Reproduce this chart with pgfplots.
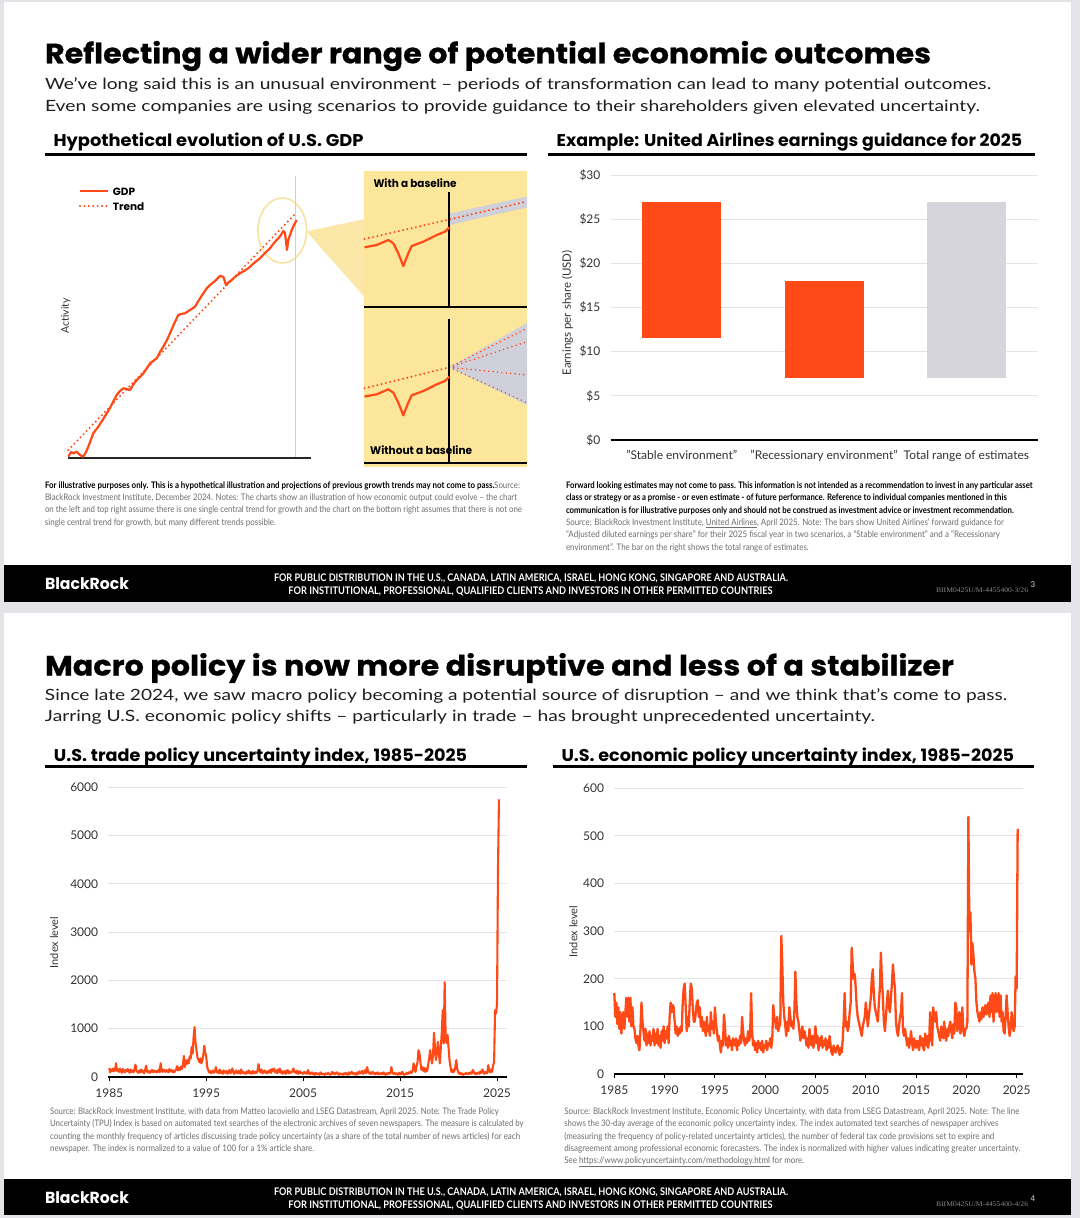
\documentclass[border=0pt]{standalone}
\usepackage{fontspec}
\setmainfont{Lato}
\newfontfamily\pop{Poppins}
\newfontfamily\popt{Poppins}[BoldFeatures={FakeBold=0.7}]
\newfontfamily\serifc{Liberation Serif}
\usepackage{graphicx}
\usepackage{pgfplots}
\pgfplotsset{compat=1.18}
\definecolor{bro}{HTML}{FF4A17}
\definecolor{pagebg}{HTML}{E4E4E8}
\definecolor{gridc}{HTML}{E3E3E8}
\definecolor{barg}{HTML}{D5D5DB}
\definecolor{ypan}{HTML}{FCE69C}
\definecolor{yfun}{HTML}{FBE8A8}
\definecolor{yell}{HTML}{F6E3A3}
\definecolor{bandg}{HTML}{D0D0DA}
\definecolor{notec}{HTML}{6E6E6E}
\definecolor{tickc}{HTML}{333333}
\definecolor{subc}{HTML}{1E1E1E}
\definecolor{vline}{HTML}{CFCFCF}
\definecolor{codec}{HTML}{8A8A8A}
\tikzset{dotl/.style={line width=2.2pt, line cap=round, dash pattern=on 0pt off 4.4pt}}
\newcommand{\fz}[1]{\fontsize{#1pt}{#1pt}\selectfont}
\newcommand{\nl}[4]{\node[anchor=base west, inner sep=0pt] at (#1,-#2) {\resizebox{#3pt}{\height}{\fz{9}#4}};}
\newcommand{\gr}[1]{\textcolor{notec}{#1}}
\begin{document}
\begin{tikzpicture}[x=1pt,y=1pt]
\useasboundingbox (0,0) rectangle (1080,-1218);
\fill[pagebg] (0,0) rectangle (1080,-1218);
\fill[white] (4,-2) rectangle (1071,-565);
\fill[black] (4,-565) rectangle (1071,-602);
\fill[white] (4,-612.5) rectangle (1071,-1179);
\fill[black] (4,-1179) rectangle (1071,-1215);
% ---------- slide 1 texts
\node[anchor=base west, inner sep=0pt] at (44.8,-63.3) {\resizebox{886pt}{\height}{\popt\bfseries\fz{28}Reflecting a wider range of potential economic outcomes}};
\node[anchor=base west, inner sep=0pt, text=subc] at (44.8,-89.3) {\resizebox{946pt}{\height}{\fz{15.5}We’ve long said this is an unusual environment – periods of transformation can lead to many potential outcomes.}};
\node[anchor=base west, inner sep=0pt, text=subc] at (44.8,-111) {\resizebox{935pt}{\height}{\fz{15.5}Even some companies are using scenarios to provide guidance to their shareholders given elevated uncertainty.}};
\node[anchor=base west, inner sep=0pt] at (53.4,-146) {\resizebox{310pt}{\height}{\pop\bfseries\fz{17}Hypothetical evolution of U.S. GDP}};
\node[anchor=base west, inner sep=0pt] at (556.5,-146) {\resizebox{465.5pt}{\height}{\pop\bfseries\fz{17}Example: United Airlines earnings guidance for 2025}};
\fill[black] (44.8,-152.7) rectangle (526.9,-156);
\fill[black] (547.6,-152.7) rectangle (1034.8,-156);
% notes slide 1
\nl{44.8}{488.5}{475}{{\bfseries For illustrative purposes only. This is a hypothetical illustration and projections of previous growth trends may not come to pass.}\gr{ Source:}}
\nl{44.8}{500.7}{472}{\gr{BlackRock Investment Institute, December 2024. Notes: The charts show an illustration of how economic output could evolve – the chart}}
\nl{44.8}{512.9}{477}{\gr{on the left and top right assume there is one single central trend for growth and the chart on the bottom right assumes that there is not one}}
\nl{44.8}{525.1}{231}{\gr{single central trend for growth, but many different trends possible.}}
\nl{565.8}{488.5}{466.6}{\bfseries Forward looking estimates may not come to pass. This information is not intended as a recommendation to invest in any particular asset}
\nl{565.8}{500.8}{440.8}{\bfseries class or strategy or as a promise - or even estimate - of future performance. Reference to individual companies mentioned in this}
\nl{565.8}{513.1}{447.7}{\bfseries communication is for illustrative purposes only and should not be construed as investment advice or investment recommendation.}
\nl{565.8}{525.4}{438}{\gr{Source: BlackRock Investment Institute, \underline{United Airlines}, April 2025. Note: The bars show United Airlines’ forward guidance for}}
\nl{565.8}{537.7}{434}{\gr{“Adjusted diluted earnings per share” for their 2025 fiscal year in two scenarios, a “Stable environment” and a “Recessionary}}
\nl{565.8}{550}{242.8}{\gr{environment”. The bar on the right shows the total range of estimates.}}
% footer 1
\node[anchor=base west, inner sep=0pt, text=white] at (44.8,-589) {\resizebox{84pt}{\height}{\pop\bfseries\fz{16}BlackRock}};
\node[anchor=base, inner sep=0pt, text=white] at (531,-581.5) {\resizebox{514pt}{\height}{\bfseries\fz{10.5}FOR PUBLIC DISTRIBUTION IN THE U.S., CANADA, LATIN AMERICA, ISRAEL, HONG KONG, SINGAPORE AND AUSTRALIA.}};
\node[anchor=base, inner sep=0pt, text=white] at (530.5,-594) {\resizebox{484pt}{\height}{\bfseries\fz{10.5}FOR INSTITUTIONAL, PROFESSIONAL, QUALIFIED CLIENTS AND INVESTORS IN OTHER PERMITTED COUNTRIES}};
\node[anchor=base east, inner sep=0pt, text=codec] at (1028.3,-592.5) {\resizebox{92pt}{\height}{\serifc\fz{7}BIIM0425U/M-4455400-3/26}};
\node[anchor=base west, inner sep=0pt, text=white!85!black] at (1030.5,-587.5) {\fz{8}3};
% ---------- slide 2 texts
\node[anchor=base west, inner sep=0pt] at (44.8,-675.5) {\resizebox{909pt}{\height}{\popt\bfseries\fz{28}Macro policy is now more disruptive and less of a stabilizer}};
\node[anchor=base west, inner sep=0pt, text=subc] at (44.8,-700.7) {\resizebox{962pt}{\height}{\fz{15.5}Since late 2024, we saw macro policy becoming a potential source of disruption – and we think that’s come to pass.}};
\node[anchor=base west, inner sep=0pt, text=subc] at (44.8,-721.7) {\resizebox{830pt}{\height}{\fz{15.5}Jarring U.S. economic policy shifts – particularly in trade – has brought unprecedented uncertainty.}};
\node[anchor=base west, inner sep=0pt] at (53.7,-761) {\resizebox{413.3pt}{\height}{\pop\bfseries\fz{17}U.S. trade policy uncertainty index, 1985-2025}};
\node[anchor=base west, inner sep=0pt] at (561.3,-761) {\resizebox{452.5pt}{\height}{\pop\bfseries\fz{17}U.S. economic policy uncertainty index, 1985-2025}};
\fill[black] (44.8,-765.2) rectangle (526.9,-768.4);
\fill[black] (553,-765.2) rectangle (1034.4,-768.4);
\nl{49.9}{1114.7}{448.7}{\gr{Source: BlackRock Investment Institute, with data from Matteo Iacoviello and LSEG Datastream, April 2025. Note: The Trade Policy}}
\nl{49.9}{1126.9}{473.5}{\gr{Uncertainty (TPU) Index is based on automated text searches of the electronic archives of seven newspapers. The measure is calculated by}}
\nl{49.9}{1139.1}{470}{\gr{counting the monthly frequency of articles discussing trade policy uncertainty (as a share of the total number of news articles) for each}}
\nl{49.9}{1151.3}{264}{\gr{newspaper. The index is normalized to a value of 100 for a 1\% article share.}}
\nl{564.1}{1114.7}{455}{\gr{Source: BlackRock Investment Institute, Economic Policy Uncertainty, with data from LSEG Datastream, April 2025. Note: The line}}
\nl{564.1}{1126.9}{434}{\gr{shows the 30-day average of the economic policy uncertainty index. The index automated text searches of newspaper archives}}
\nl{564.1}{1139.1}{430}{\gr{(measuring the frequency of policy-related uncertainty articles), the number of federal tax code provisions set to expire and}}
\nl{564.1}{1151.3}{456}{\gr{disagreement among professional economic forecasters. The index is normalized with higher values indicating greater uncertainty.}}
\nl{564.1}{1163.5}{240}{\gr{See \underline{https://www.policyuncertainty.com/methodology.html} for more.}}
% footer 2
\node[anchor=base west, inner sep=0pt, text=white] at (44.8,-1203) {\resizebox{84pt}{\height}{\pop\bfseries\fz{16}BlackRock}};
\node[anchor=base, inner sep=0pt, text=white] at (531,-1195.5) {\resizebox{514pt}{\height}{\bfseries\fz{10.5}FOR PUBLIC DISTRIBUTION IN THE U.S., CANADA, LATIN AMERICA, ISRAEL, HONG KONG, SINGAPORE AND AUSTRALIA.}};
\node[anchor=base, inner sep=0pt, text=white] at (530.5,-1208) {\resizebox{484pt}{\height}{\bfseries\fz{10.5}FOR INSTITUTIONAL, PROFESSIONAL, QUALIFIED CLIENTS AND INVESTORS IN OTHER PERMITTED COUNTRIES}};
\node[anchor=base east, inner sep=0pt, text=codec] at (1028.3,-1206.5) {\resizebox{92pt}{\height}{\serifc\fz{7}BIIM0425U/M-4455400-4/26}};
\node[anchor=base west, inner sep=0pt, text=white!85!black] at (1030.5,-1201.5) {\fz{8}4};
% ---------- GDP illustration
\begin{axis}[at={(290pt,-315pt)}, anchor=center, scale only axis, width=500pt, height=310pt,
  xmin=40, xmax=540, ymin=160, ymax=470, y dir=reverse, hide axis, clip=false]
\addplot[fill=yfun, draw=none] coordinates {(306.5,231.5) (364.5,219) (364.5,297)} -- cycle;
\addplot[fill=ypan, draw=none] coordinates {(364,171) (527,171) (527,467) (364,467)} -- cycle;
\draw[yell, line width=1.6pt] (axis cs:282.3,230.5) ellipse [x radius=24.3, y radius=32.5];
\addplot[vline, line width=0.9pt] coordinates {(295.7,176) (295.7,458)};
\addplot[black!85, line width=1.8pt] coordinates {(68,458.3) (311,458.3)};
\addplot[bro, dotl] coordinates {(68.3,450) (295,214)};
\addplot[bro, line width=2.2pt, line join=round] coordinates {(68.3,456.7) (71,452) (73.3,453.3) (76.7,451.7) (80,455) (83.3,456.7) (86,452) (88.3,446.7) (93.3,433.3) (98.3,426.7) (102,421) (106.7,413.3) (110,408) (113,402) (116.7,395) (120,391) (123.3,388.3) (127,389) (130,390) (133,385) (136.7,380) (140,377) (143.3,373.3) (147,368) (150,363.3) (153,361) (156.7,358.3) (160,352) (163.3,346.7) (167,340) (170,333.3) (174,324) (178.3,315) (181,314) (185,313.3) (190,310) (195,306.7) (199,300) (203.3,293.3) (207,288) (210,285) (215,281) (220,276) (223.3,276.7) (226,285) (229,282) (231.7,280) (236,276) (240,273.3) (244,271) (248.3,268.3) (254,263) (260,258.3) (265,253) (270,248.3) (274,243) (278.3,238.3) (281,235) (283.3,231) (285,233) (287,250) (288.3,240) (291.7,230) (294,225) (296.7,220)};
\addplot[bro, line width=2.2pt] coordinates {(80,191) (108,191)};
\addplot[bro, dotl] coordinates {(80,206) (108,206)};
% inset top
\addplot[fill=bandg, draw=none] coordinates {(449.5,213.5) (527,196.5) (527,207.5) (449.5,225)} -- cycle;
\addplot[bro, dotl] coordinates {(364.5,239) (449.3,219.5) (527,201.5)};
\addplot[black, line width=1.8pt] coordinates {(449.3,192) (449.3,307)};
\addplot[black, line width=1.8pt] coordinates {(364,307) (527,307)};
\addplot[bro, line width=2.2pt, line join=round] coordinates {(364.5,247.3) (376.7,245) (388.3,240) (393.3,243.3) (398.3,253.3) (403.3,266) (408.3,253.3) (411.7,246) (423.3,241.7) (436.7,235) (445,231.7) (449.5,227.3)};
% inset bottom
\addplot[fill=bandg, draw=none] coordinates {(449.3,367.3) (527,323) (527,405)} -- cycle;
\addplot[bro, dotl] coordinates {(364.5,388.3) (449.3,367.3)};
\addplot[bro, dotl, line width=1.7pt] coordinates {(449.3,367.3) (527,328.3)};
\addplot[bro, dotl, line width=1.7pt] coordinates {(449.3,367.3) (527,341.7)};
\addplot[bro, dotl, line width=1.7pt] coordinates {(449.3,367.3) (527,375)};
\addplot[bro, dotl, line width=1.7pt] coordinates {(449.3,367.3) (527,402.7)};
\addplot[black, line width=1.8pt] coordinates {(449.3,319) (449.3,462)};
\addplot[black, line width=1.8pt] coordinates {(364,463) (527,463)};
\addplot[bro, line width=2.2pt, line join=round] coordinates {(364.5,396.6) (376.7,394.3) (388.3,389.3) (393.3,392.6) (398.3,402.6) (403.3,415.3) (408.3,402.6) (411.7,395.3) (423.3,391) (436.7,384.3) (445,381) (449.5,376.6)};
\node[anchor=base west, inner sep=0pt] at (axis cs:373.3,187.5) {\resizebox{83pt}{\height}{\pop\bfseries\fz{11}With a baseline}};
\node[anchor=base west, inner sep=0pt] at (axis cs:370,454) {\resizebox{102pt}{\height}{\pop\bfseries\fz{11}Without a baseline}};
\node[anchor=base west, inner sep=0pt] at (axis cs:112.7,195) {\pop\bfseries\fz{10.5}GDP};
\node[anchor=base west, inner sep=0pt] at (axis cs:112.7,210) {\pop\bfseries\fz{10.5}Trend};
\node[rotate=90, inner sep=0pt, text=tickc] at (axis cs:66,316) {\fz{10.5}Activity};
\end{axis}
% ---------- UAL bars
\begin{axis}[at={(610.6pt,-175pt)}, anchor=north west, scale only axis, width=427pt, height=265pt,
  xmin=-0.5, xmax=2.5, ymin=0, ymax=30, ytick={0,5,...,30},
  yticklabels={\$0,\$5,\$10,\$15,\$20,\$25,\$30},
  xtick={0,1,2}, xticklabels={"Stable environment","Recessionary environment",Total range of estimates},
  ymajorgrids, grid style={gridc, line width=1pt},
  axis line style={draw=none}, tick style={draw=none},
  tick label style={font=\fz{12}, text=tickc},
  yticklabel style={anchor=east, inner sep=0pt, xshift=-10pt},
  xticklabel style={anchor=north, inner sep=0pt, yshift=-10pt},
  clip=false]
\addplot[fill=bro, draw=none] coordinates {(-0.278,11.5) (0.278,11.5) (0.278,27) (-0.278,27)} -- cycle;
\addplot[fill=bro, draw=none] coordinates {(0.722,7) (1.278,7) (1.278,18) (0.722,18)} -- cycle;
\addplot[fill=barg, draw=none] coordinates {(1.722,7) (2.278,7) (2.278,27) (1.722,27)} -- cycle;
\draw[black, line width=2pt] (axis cs:-0.5,0) -- (axis cs:2.5,0);
\end{axis}
\node[rotate=90, inner sep=0pt, text=tickc] at (567.5,-313) {\fz{11.5}Earnings per share (USD)};
% ---------- TPU
\begin{axis}[at={(108.3pt,-787.3pt)}, anchor=north west, scale only axis, width=398.4pt, height=289.4pt,
  xmin=1984.9, xmax=2026.0, ymin=0, ymax=6000, xtick={1985,1995,2005,2015,2025}, ytick={0,1000,...,6000},
  /pgf/number format/1000 sep={}, /pgf/number format/assume math mode=true,
  ymajorgrids, grid style={gridc, line width=1pt},
  axis x line*=bottom, axis y line*=left, x axis line style={black, line width=1.8pt, -},
  y axis line style={draw=none}, xtick style={black, line width=1pt}, ytick style={draw=none},
  major tick length=4pt, tick align=outside,
  tick label style={font=\fz{12}, text=tickc},
  yticklabel style={anchor=east, inner sep=0pt, xshift=-6pt},
  xticklabel style={anchor=north, inner sep=0pt, yshift=-7.5pt},
  clip=false]
\addplot[bro, line width=2.1pt, line join=round] coordinates {
(1985.0,180)(1985.1,90)(1985.2,150)(1985.3,120)(1985.4,170)(1985.5,110)(1985.6,140)(1985.7,280)(1985.8,120)(1985.9,150)
(1986.0,100)(1986.1,170)(1986.2,130)(1986.3,80)(1986.4,160)(1986.5,120)(1986.6,90)(1986.7,140)(1986.8,110)(1986.9,160)
(1987.0,120)(1987.1,80)(1987.2,150)(1987.3,100)(1987.4,130)(1987.5,90)(1987.6,160)(1987.7,250)(1987.8,120)(1987.9,100)
(1988.0,80)(1988.1,130)(1988.2,90)(1988.3,150)(1988.4,100)(1988.5,120)(1988.6,70)(1988.7,140)(1988.8,230)(1988.9,110)
(1989.0,90)(1989.1,120)(1989.2,80)(1989.3,110)(1989.4,140)(1989.5,90)(1989.6,130)(1989.7,100)(1989.8,120)(1989.9,90)
(1990.0,110)(1990.1,150)(1990.2,90)(1990.3,280)(1990.4,130)(1990.5,100)(1990.6,150)(1990.7,120)(1990.8,100)(1990.9,140)
(1991.0,120)(1991.1,90)(1991.2,160)(1991.3,110)(1991.4,140)(1991.5,100)(1991.6,130)(1991.7,90)(1991.8,120)(1991.9,150)
(1992.0,220)(1992.1,130)(1992.2,180)(1992.3,140)(1992.4,210)(1992.5,160)(1992.6,250)(1992.7,430)(1992.8,200)(1992.9,340)
(1993.0,260)(1993.1,350)(1993.2,280)(1993.3,420)(1993.4,380)(1993.5,620)(1993.6,480)(1993.7,820)(1993.8,1030)(1993.9,700)
(1994.0,550)(1994.1,400)(1994.2,350)(1994.3,300)(1994.4,380)(1994.5,280)(1994.6,330)(1994.7,450)(1994.8,640)(1994.9,500)
(1995.0,420)(1995.1,200)(1995.2,140)(1995.3,90)(1995.4,120)(1995.5,70)(1995.6,100)(1995.7,130)(1995.8,80)(1995.9,110)
(1996.0,200)(1996.1,90)(1996.2,120)(1996.3,70)(1996.4,150)(1996.5,80)(1996.6,110)(1996.7,60)(1996.8,130)(1996.9,90)
(1997.0,80)(1997.1,120)(1997.2,60)(1997.3,100)(1997.4,140)(1997.5,70)(1997.6,110)(1997.7,170)(1997.8,90)(1997.9,60)
(1998.0,100)(1998.1,130)(1998.2,70)(1998.3,90)(1998.4,120)(1998.5,60)(1998.6,150)(1998.7,80)(1998.8,100)(1998.9,70)
(1999.0,90)(1999.1,60)(1999.2,110)(1999.3,80)(1999.4,130)(1999.5,70)(1999.6,100)(1999.7,60)(1999.8,120)(1999.9,80)
(2000.0,70)(2000.1,110)(2000.2,80)(2000.3,130)(2000.4,260)(2000.5,120)(2000.6,90)(2000.7,150)(2000.8,70)(2000.9,100)
(2001.0,130)(2001.1,80)(2001.2,110)(2001.3,70)(2001.4,120)(2001.5,90)(2001.6,140)(2001.7,80)(2001.8,160)(2001.9,120)
(2002.0,170)(2002.1,90)(2002.2,130)(2002.3,70)(2002.4,150)(2002.5,100)(2002.6,170)(2002.7,80)(2002.8,120)(2002.9,60)
(2003.0,90)(2003.1,120)(2003.2,60)(2003.3,100)(2003.4,140)(2003.5,70)(2003.6,110)(2003.7,80)(2003.8,90)(2003.9,120)
(2004.0,170)(2004.1,90)(2004.2,110)(2004.3,70)(2004.4,130)(2004.5,60)(2004.6,90)(2004.7,110)(2004.8,70)(2004.9,80)
(2005.0,60)(2005.1,100)(2005.2,70)(2005.3,90)(2005.4,60)(2005.5,140)(2005.6,80)(2005.7,50)(2005.8,70)(2005.9,90)
(2006.0,50)(2006.1,70)(2006.2,40)(2006.3,80)(2006.4,60)(2006.5,50)(2006.6,70)(2006.7,40)(2006.8,90)(2006.9,60)
(2007.0,50)(2007.1,60)(2007.2,40)(2007.3,70)(2007.4,50)(2007.5,60)(2007.6,80)(2007.7,50)(2007.8,40)(2007.9,60)
(2008.0,100)(2008.1,60)(2008.2,80)(2008.3,50)(2008.4,70)(2008.5,90)(2008.6,60)(2008.7,40)(2008.8,70)(2008.9,50)
(2009.0,60)(2009.1,40)(2009.2,70)(2009.3,50)(2009.4,80)(2009.5,60)(2009.6,40)(2009.7,90)(2009.8,50)(2009.9,70)
(2010.0,100)(2010.1,60)(2010.2,80)(2010.3,50)(2010.4,70)(2010.5,40)(2010.6,90)(2010.7,60)(2010.8,110)(2010.9,70)
(2011.0,80)(2011.1,120)(2011.2,60)(2011.3,90)(2011.4,140)(2011.5,70)(2011.6,200)(2011.7,110)(2011.8,80)(2011.9,60)
(2012.0,90)(2012.1,60)(2012.2,100)(2012.3,70)(2012.4,50)(2012.5,80)(2012.6,60)(2012.7,90)(2012.8,50)(2012.9,70)
(2013.0,60)(2013.1,80)(2013.2,50)(2013.3,90)(2013.4,60)(2013.5,40)(2013.6,70)(2013.7,50)(2013.8,80)(2013.9,60)
(2014.0,70)(2014.1,200)(2014.2,90)(2014.3,60)(2014.4,80)(2014.5,50)(2014.6,70)(2014.7,60)(2014.8,40)(2014.9,80)
(2015.0,60)(2015.1,50)(2015.2,100)(2015.3,70)(2015.4,40)(2015.5,60)(2015.6,50)(2015.7,80)(2015.8,60)(2015.9,90)
(2016.0,70)(2016.1,110)(2016.2,80)(2016.3,130)(2016.4,275)(2016.5,150)(2016.6,100)(2016.7,220)(2016.8,300)(2016.9,550)
(2017.0,480)(2017.1,300)(2017.2,140)(2017.3,200)(2017.4,120)(2017.5,180)(2017.6,100)(2017.7,170)(2017.8,120)(2017.9,250)
(2018.0,380)(2018.1,550)(2018.2,400)(2018.3,275)(2018.4,450)(2018.5,910)(2018.6,600)(2018.7,345)(2018.8,500)(2018.9,725)
(2019.0,500)(2019.1,275)(2019.2,600)(2019.3,900)(2019.4,1380)(2019.5,690)(2019.6,1960)(2019.7,830)(2019.8,700)(2019.9,865)
(2020.0,600)(2020.1,345)(2020.2,200)(2020.3,100)(2020.4,150)(2020.5,90)(2020.6,120)(2020.7,200)(2020.8,345)(2020.9,150)
(2021.0,100)(2021.1,60)(2021.2,80)(2021.3,50)(2021.4,70)(2021.5,40)(2021.6,60)(2021.7,50)(2021.8,80)(2021.9,60)
(2022.0,50)(2022.1,80)(2022.2,60)(2022.3,90)(2022.4,70)(2022.5,140)(2022.6,100)(2022.7,60)(2022.8,80)(2022.9,50)
(2023.0,70)(2023.1,90)(2023.2,60)(2023.3,110)(2023.4,80)(2023.5,150)(2023.6,90)(2023.7,60)(2023.8,100)(2023.9,70)
(2024.0,80)(2024.1,240)(2024.2,120)(2024.3,90)(2024.4,150)(2024.5,100)(2024.6,240)(2024.7,300)(2024.8,1380)(2024.9,1310)
(2025.0,1500)(2025.1,4280)(2025.2,5750)};
\end{axis}
\node[rotate=90, inner sep=0pt, text=tickc] at (54,-942.5) {\fz{11}Index level};
% ---------- EPU
\begin{axis}[at={(614.3pt,-788.3pt)}, anchor=north west, scale only axis, width=408.4pt, height=285.7pt,
  xmin=1985, xmax=2025.6, ymin=0, ymax=600, xtick={1985,1990,...,2025}, ytick={0,100,...,600},
  /pgf/number format/1000 sep={}, /pgf/number format/assume math mode=true,
  ymajorgrids, grid style={gridc, line width=1pt},
  axis x line*=bottom, axis y line*=left, x axis line style={black, line width=1.8pt, -},
  y axis line style={draw=none}, xtick style={black, line width=1pt}, ytick style={draw=none},
  major tick length=4pt, tick align=outside,
  tick label style={font=\fz{12}, text=tickc},
  yticklabel style={anchor=east, inner sep=0pt, xshift=-6pt},
  xticklabel style={anchor=north, inner sep=0pt, yshift=-7.5pt},
  clip=false]
\addplot[bro, line width=2.3pt, line join=round] coordinates {
(1985.0,170)(1985.1,120)(1985.2,150)(1985.3,105)(1985.4,140)(1985.5,95)(1985.6,130)(1985.7,85)(1985.8,110)(1985.9,130)
(1986.0,95)(1986.1,130)(1986.2,160)(1986.3,120)(1986.4,160)(1986.5,110)(1986.6,160)(1986.7,100)(1986.8,140)(1986.9,100)
(1987.0,95)(1987.1,75)(1987.2,65)(1987.3,80)(1987.4,60)(1987.5,50)(1987.6,95)(1987.7,150)(1987.8,110)(1987.9,90)
(1988.0,70)(1988.1,95)(1988.2,60)(1988.3,85)(1988.4,65)(1988.5,90)(1988.6,60)(1988.7,80)(1988.8,70)(1988.9,95)
(1989.0,60)(1989.1,85)(1989.2,65)(1989.3,95)(1989.4,60)(1989.5,80)(1989.6,55)(1989.7,90)(1989.8,70)(1989.9,100)
(1990.0,65)(1990.1,90)(1990.2,75)(1990.3,100)(1990.4,65)(1990.5,120)(1990.6,150)(1990.7,130)(1990.8,145)(1990.9,140)
(1991.0,110)(1991.1,85)(1991.2,100)(1991.3,80)(1991.4,95)(1991.5,85)(1991.6,100)(1991.7,90)(1991.8,150)(1991.9,180)
(1992.0,190)(1992.1,140)(1992.2,90)(1992.3,120)(1992.4,100)(1992.5,150)(1992.6,190)(1992.7,180)(1992.8,140)(1992.9,110)
(1993.0,110)(1993.1,130)(1993.2,150)(1993.3,155)(1993.4,120)(1993.5,140)(1993.6,100)(1993.7,120)(1993.8,90)(1993.9,110)
(1994.0,95)(1994.1,80)(1994.2,120)(1994.3,90)(1994.4,100)(1994.5,80)(1994.6,130)(1994.7,95)(1994.8,110)(1994.9,85)
(1995.0,140)(1995.1,110)(1995.2,90)(1995.3,70)(1995.4,80)(1995.5,60)(1995.6,45)(1995.7,70)(1995.8,60)(1995.9,125)
(1996.0,100)(1996.1,60)(1996.2,75)(1996.3,55)(1996.4,80)(1996.5,60)(1996.6,70)(1996.7,50)(1996.8,75)(1996.9,65)
(1997.0,60)(1997.1,75)(1997.2,50)(1997.3,70)(1997.4,60)(1997.5,80)(1997.6,65)(1997.7,120)(1997.8,90)(1997.9,70)
(1998.0,60)(1998.1,75)(1998.2,65)(1998.3,90)(1998.4,70)(1998.5,80)(1998.6,170)(1998.7,90)(1998.8,60)(1998.9,70)
(1999.0,50)(1999.1,65)(1999.2,45)(1999.3,70)(1999.4,55)(1999.5,65)(1999.6,50)(1999.7,70)(1999.8,45)(1999.9,60)
(2000.0,55)(2000.1,70)(2000.2,50)(2000.3,65)(2000.4,60)(2000.5,75)(2000.6,55)(2000.7,70)(2000.8,145)(2000.9,120)
(2001.0,110)(2001.1,95)(2001.2,120)(2001.3,90)(2001.4,100)(2001.5,105)(2001.6,290)(2001.7,230)(2001.8,150)(2001.9,120)
(2002.0,100)(2002.1,80)(2002.2,110)(2002.3,90)(2002.4,140)(2002.5,120)(2002.6,100)(2002.7,110)(2002.8,95)(2002.9,130)
(2003.0,215)(2003.1,150)(2003.2,120)(2003.3,110)(2003.4,90)(2003.5,70)(2003.6,85)(2003.7,100)(2003.8,75)(2003.9,90)
(2004.0,80)(2004.1,60)(2004.2,75)(2004.3,55)(2004.4,95)(2004.5,70)(2004.6,60)(2004.7,80)(2004.8,55)(2004.9,75)
(2005.0,100)(2005.1,65)(2005.2,80)(2005.3,50)(2005.4,75)(2005.5,60)(2005.6,80)(2005.7,55)(2005.8,70)(2005.9,60)
(2006.0,75)(2006.1,50)(2006.2,70)(2006.3,55)(2006.4,80)(2006.5,60)(2006.6,45)(2006.7,40)(2006.8,60)(2006.9,50)
(2007.0,45)(2007.1,55)(2007.2,60)(2007.3,50)(2007.4,40)(2007.5,55)(2007.6,45)(2007.7,70)(2007.8,110)(2007.9,170)
(2008.0,100)(2008.1,110)(2008.2,90)(2008.3,100)(2008.4,130)(2008.5,150)(2008.6,265)(2008.7,230)(2008.8,200)(2008.9,210)
(2009.0,180)(2009.1,140)(2009.2,120)(2009.3,110)(2009.4,100)(2009.5,90)(2009.6,80)(2009.7,100)(2009.8,110)(2009.9,120)
(2010.0,150)(2010.1,130)(2010.2,100)(2010.3,120)(2010.4,140)(2010.5,160)(2010.6,200)(2010.7,220)(2010.8,170)(2010.9,140)
(2011.0,130)(2011.1,120)(2011.2,110)(2011.3,150)(2011.4,180)(2011.5,255)(2011.6,200)(2011.7,160)(2011.8,110)(2011.9,90)
(2012.0,120)(2012.1,150)(2012.2,175)(2012.3,140)(2012.4,130)(2012.5,160)(2012.6,190)(2012.7,230)(2012.8,200)(2012.9,180)
(2013.0,110)(2013.1,90)(2013.2,80)(2013.3,100)(2013.4,120)(2013.5,130)(2013.6,170)(2013.7,90)(2013.8,80)(2013.9,95)
(2014.0,80)(2014.1,60)(2014.2,75)(2014.3,55)(2014.4,70)(2014.5,90)(2014.6,65)(2014.7,50)(2014.8,75)(2014.9,60)
(2015.0,55)(2015.1,70)(2015.2,65)(2015.3,50)(2015.4,80)(2015.5,60)(2015.6,75)(2015.7,55)(2015.8,50)(2015.9,85)
(2016.0,60)(2016.1,80)(2016.2,55)(2016.3,70)(2016.4,130)(2016.5,90)(2016.6,60)(2016.7,140)(2016.8,120)(2016.9,110)
(2017.0,130)(2017.1,100)(2017.2,90)(2017.3,80)(2017.4,70)(2017.5,100)(2017.6,85)(2017.7,75)(2017.8,110)(2017.9,80)
(2018.0,70)(2018.1,95)(2018.2,80)(2018.3,100)(2018.4,110)(2018.5,90)(2018.6,75)(2018.7,105)(2018.8,85)(2018.9,150)
(2019.0,140)(2019.1,90)(2019.2,110)(2019.3,130)(2019.4,85)(2019.5,95)(2019.6,140)(2019.7,90)(2019.8,80)(2019.9,95)
(2020.0,95)(2020.1,110)(2020.2,540)(2020.3,300)(2020.4,340)(2020.5,230)(2020.6,275)(2020.7,250)(2020.8,215)(2020.9,200)
(2021.0,150)(2021.1,130)(2021.2,120)(2021.3,110)(2021.4,130)(2021.5,115)(2021.6,140)(2021.7,120)(2021.8,130)(2021.9,145)
(2022.0,125)(2022.1,140)(2022.2,150)(2022.3,120)(2022.4,165)(2022.5,130)(2022.6,170)(2022.7,110)(2022.8,150)(2022.9,170)
(2023.0,130)(2023.1,150)(2023.2,170)(2023.3,120)(2023.4,165)(2023.5,110)(2023.6,130)(2023.7,90)(2023.8,85)(2023.9,120)
(2024.0,165)(2024.1,130)(2024.2,100)(2024.3,80)(2024.4,95)(2024.5,130)(2024.6,105)(2024.7,90)(2024.8,100)(2024.9,205)
(2025.0,180)(2025.1,515)};
\end{axis}
\node[rotate=90, inner sep=0pt, text=tickc] at (573.3,-931.5) {\fz{11}Index level};
\end{tikzpicture}
\end{document}
